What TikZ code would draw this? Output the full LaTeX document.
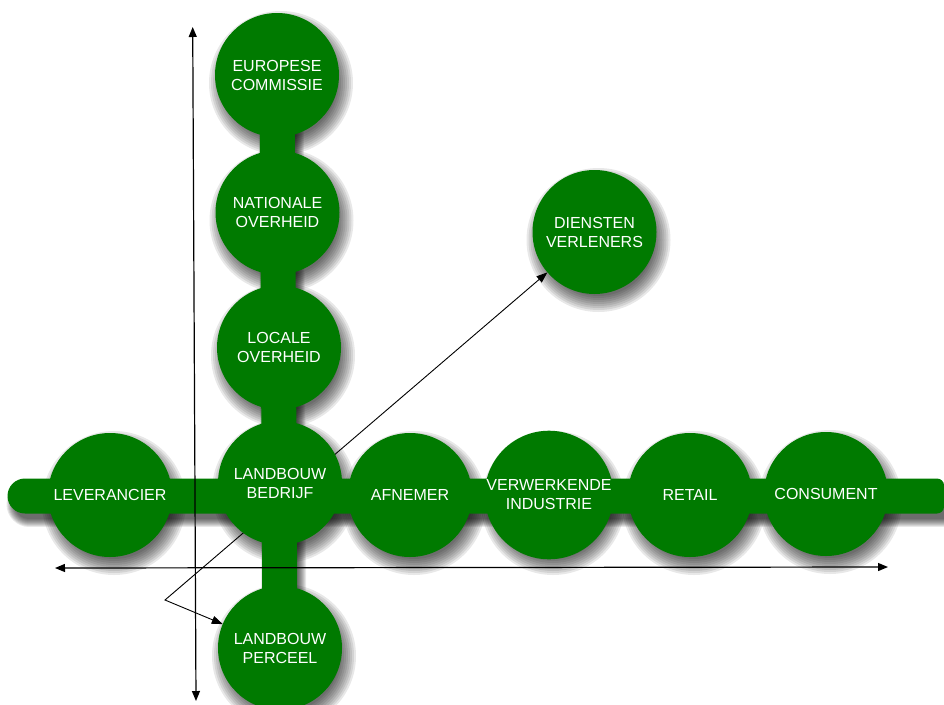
\documentclass[tikz,border=0pt]{standalone}
\usepackage{fontspec}
\setmainfont{Liberation Sans}
\usetikzlibrary{arrows.meta}
\definecolor{dgreen}{RGB}{0,122,0}
\pgfdeclarelayer{shadowlayer}
\pgfdeclarelayer{barlayer}
\pgfsetlayers{shadowlayer,barlayer,main}
\begin{document}
\begin{tikzpicture}[x=1pt,y=-1pt,
  ball/.style={circle,fill=dgreen,minimum size=124pt,inner sep=0pt,outer sep=0pt,
    text=white,align=center,font=\fontsize{16}{19}\selectfont},
  axisline/.style={line width=1.2pt,{Triangle[length=10pt,width=8pt]}-{Triangle[length=10pt,width=8pt]}},
  diagline/.style={line width=0.9pt,{Triangle[length=11pt,width=8pt]}-{Triangle[length=11pt,width=8pt]}},
  barline/.style={line width=35pt,draw=dgreen},
  shade/.style={fill=black,opacity=0.09},
  shadeline/.style={draw=black,opacity=0.09}]
\useasboundingbox (0,0) rectangle (944,704);

% circles
\node[ball] (euro) at (277,75)    {EUROPESE\\COMMISSIE};
\node[ball] (nat)  at (277.5,212.5) {NATIONALE\\OVERHEID};
\node[ball] (loc)  at (279,347.5) {LOCALE\\OVERHEID};
\node[ball] (bedr) at (280,483)   {LANDBOUW\\BEDRIJF};
\node[ball] (perc) at (280,648)   {LANDBOUW\\PERCEEL};
\node[ball] (lev)  at (110,495)   {LEVERANCIER};
\node[ball] (afn)  at (410,495)   {AFNEMER};
\node[ball] (verw) at (549,495)   {VERWERKENDE\\INDUSTRIE};
\node[ball] (ret)  at (690,495)   {RETAIL};
\node[ball] (cons) at (826,494)   {CONSUMENT};
\node[ball] (dien) at (594.5,232) {DIENSTEN\\VERLENERS};

% bar end points
\coordinate (hbl) at (25,496);
\coordinate (hbr) at (944,496);
\coordinate (v) at (165,600);

% bars and diagonal connector (behind the circles)
\begin{pgfonlayer}{barlayer}
  \draw[barline] (euro.center) -- (perc.center);
  \fill[dgreen] (25,478.5) [rounded corners=7pt] -- (944,478.5) -- (944,513.5)
     [sharp corners] -- (25,513.5) arc[start angle=90,end angle=270,radius=17.5] -- cycle;
  \draw[diagline] (perc) -- (v) -- (dien);
\end{pgfonlayer}

% soft shadows
\begin{pgfonlayer}{shadowlayer}
  \foreach \n in {euro,nat,loc,bedr,perc,lev,afn,verw,ret,cons,dien}{
    \foreach \r in {56,58,...,72}{
      \fill[shade] ([shift={(4,8)}]\n.center) circle[radius=\r];
    }
  }
  \foreach \w in {29,31,...,45}{
    \draw[shadeline,line width=\w pt,line cap=round] ([shift={(4,8)}]hbl) -- ([shift={(4,8)}]hbr);
    \draw[shadeline,line width=\w pt] ([shift={(4,8)}]euro.center) -- ([shift={(4,8)}]perc.center);
  }
\end{pgfonlayer}

% axes
\coordinate (vt) at (192.7,27);
\coordinate (vb) at (196,701);
\coordinate (hl) at (55,568);
\coordinate (hr) at (888,567);
\draw[axisline] (vt) -- (vb);
\draw[axisline] (hl) -- (hr);
\end{tikzpicture}
\end{document}
